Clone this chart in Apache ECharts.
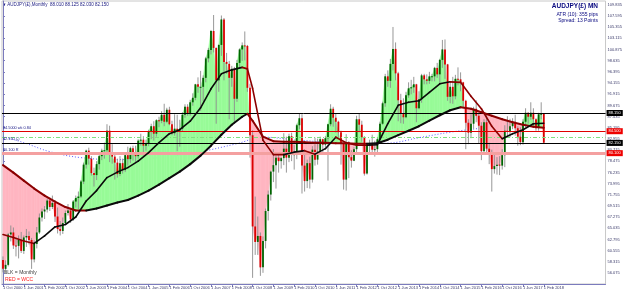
<!DOCTYPE html>
<html>
<head>
<meta charset="utf-8">
<script src="https://cdn.jsdelivr.net/npm/echarts@6/dist/echarts.min.js"></script>
<style>
html, body { margin: 0; padding: 0; background: #fff; }
#chart { width: 625px; height: 293px; }
</style>
</head>
<body>
<div id="chart"></div>
<script>
// AUDJPY monthly, bar 0 = Oct 2000 ... bar 208 = Feb 2018
var firstOpen = 58.7;
var closes = [
  56.9, 57.7, 63.8,
  64.2, 61.6, 61.5, 62.7, 60.5, 63.2, 63.5, 62.7, 58.8, 61.9, 64.2, 67.2,
  68.4, 68.8, 70.6, 69.3, 70.1, 67.4, 64.9, 64.5, 66.1, 68.1, 68.6, 66.8,
  70.4, 71.1, 71.4, 74.4, 77.8, 80.6, 79.0, 76.1, 75.7, 77.9, 79.5, 80.6,
  80.7, 84.6, 79.9, 79.4, 78.2, 75.9, 78.1, 76.7, 79.7, 78.9, 81.1, 80.1,
  79.5, 82.6, 82.8, 81.6, 82.1, 84.5, 85.5, 84.0, 86.7, 86.6, 87.8, 86.4,
  88.8, 85.9, 84.1, 85.0, 84.7, 85.0, 87.8, 89.4, 88.1, 90.3, 91.2, 93.9,
  93.4, 93.4, 95.2, 99.1, 100.8, 104.6, 101.2, 94.7, 101.8, 106.9, 98.4, 98.0,
  95.2, 97.0, 91.0, 98.2, 100.9, 101.7, 101.6, 93.2, 83.7, 65.4, 62.3, 63.5,
  57.2, 62.5, 68.5, 71.8, 76.4, 77.7, 79.2, 78.5, 79.1, 81.0, 79.2, 83.5,
  79.8, 79.9, 85.7, 87.1, 77.6, 74.5, 78.1, 74.8, 80.8, 78.8, 80.4, 82.9,
  81.8, 83.1, 85.9, 89.0, 87.2, 86.4, 84.3, 82.0, 74.8, 82.3, 79.3, 78.6,
  80.9, 86.9, 85.8, 83.3, 76.0, 81.6, 82.1, 80.8, 80.9, 82.9, 86.0, 90.1,
  95.5, 94.6, 98.0, 101.0, 96.1, 90.7, 88.0, 87.3, 91.7, 93.1, 93.3, 93.9,
  89.1, 90.9, 95.7, 94.9, 94.6, 95.5, 95.5, 97.2, 95.9, 98.8, 100.9, 97.9,
  91.4, 93.4, 91.5, 95.0, 94.9, 94.3, 90.6, 86.2, 84.2, 86.0, 89.0, 87.6,
  85.6, 80.5, 86.3, 81.0, 80.0, 76.9, 77.5, 77.8, 77.6, 79.7, 84.6, 84.4,
  85.5, 86.4, 85.1, 83.4, 82.3, 86.4, 88.2, 87.4, 88.2, 86.9, 85.1, 87.9,
  88.0, 82.2
];
var highs = [
  59.4, 58.6, 64.1,
  65.6, 65.2, 63.2, 63.6, 64.3, 63.6, 64.9, 64.4, 63.1, 62.6, 65.3, 68.0,
  69.0, 69.5, 71.0, 71.2, 71.6, 70.6, 69.2, 66.5, 67.2, 68.6, 69.9, 69.0,
  70.7, 71.6, 72.4, 74.7, 78.2, 80.8, 81.2, 79.5, 77.2, 78.5, 80.2, 81.0,
  82.2, 85.9, 85.6, 81.9, 79.8, 79.0, 79.5, 79.0, 80.2, 81.4, 81.4, 81.6,
  81.6, 82.9, 84.0, 83.5, 82.8, 84.8, 86.0, 86.5, 86.9, 87.4, 88.5, 90.0,
  89.2, 89.4, 86.6, 87.9, 87.8, 86.8, 88.3, 89.9, 89.9, 90.8, 92.1, 94.0,
  95.3, 96.6, 95.7, 99.4, 101.2, 104.8, 107.8, 101.3, 101.9, 107.7, 107.2, 100.2,
  98.6, 97.6, 97.4, 98.8, 101.1, 102.3, 104.5, 101.8, 94.0, 84.7, 71.4, 67.4,
  64.2, 63.4, 69.0, 72.6, 76.6, 80.9, 79.6, 80.2, 79.3, 84.1, 83.4, 84.0,
  84.2, 81.7, 86.0, 88.1, 87.9, 80.2, 78.8, 79.4, 81.5, 83.2, 83.0, 83.4,
  83.0, 83.5, 86.0, 89.9, 89.4, 88.0, 86.6, 84.6, 82.0, 83.9, 82.5, 80.7,
  81.3, 87.6, 88.0, 86.6, 83.5, 81.8, 82.8, 83.8, 82.6, 83.3, 86.4, 90.4,
  96.0, 96.7, 99.0, 105.4, 102.3, 96.4, 92.0, 91.1, 92.4, 94.3, 94.8, 95.4,
  94.0, 92.5, 96.0, 96.0, 95.9, 96.4, 96.0, 97.4, 98.2, 99.0, 102.8, 102.9,
  98.0, 94.4, 95.4, 95.8, 97.3, 96.3, 94.4, 90.8, 86.9, 87.9, 89.4, 90.7,
  88.2, 86.3, 86.9, 87.8, 82.2, 80.8, 79.8, 79.3, 79.5, 80.9, 85.7, 87.5,
  87.0, 87.1, 87.8, 85.5, 85.3, 86.9, 89.1, 88.3, 90.3, 89.1, 87.1, 88.2,
  90.3, 88.1
];
var lows = [
  56.2, 55.9, 57.4,
  62.4, 60.9, 59.4, 59.0, 60.1, 59.9, 61.3, 61.8, 56.9, 58.2, 61.0, 63.9,
  66.4, 66.9, 68.2, 68.5, 68.9, 66.3, 64.0, 63.6, 63.9, 65.9, 67.6, 66.1,
  66.5, 69.2, 68.9, 71.1, 73.9, 77.0, 77.8, 75.6, 73.4, 74.7, 76.8, 78.7,
  79.0, 79.8, 78.3, 78.0, 74.8, 75.2, 75.5, 76.0, 76.3, 77.6, 78.1, 78.6,
  78.3, 79.0, 81.6, 79.6, 80.6, 81.5, 82.9, 82.6, 83.4, 85.3, 86.1, 85.5,
  86.1, 85.7, 83.7, 83.6, 80.5, 81.4, 84.5, 87.2, 87.6, 87.6, 89.6, 90.7,
  92.2, 88.6, 90.5, 94.3, 98.3, 99.9, 100.3, 86.0, 92.4, 99.6, 94.7, 96.0,
  86.9, 93.4, 86.0, 90.4, 97.2, 98.6, 98.7, 92.4, 79.2, 55.1, 59.7, 59.7,
  55.5, 56.1, 61.0, 66.6, 70.6, 74.3, 73.0, 76.2, 77.0, 77.7, 76.2, 78.3,
  78.5, 76.8, 78.9, 84.9, 72.0, 72.4, 73.1, 73.0, 74.2, 77.6, 77.8, 80.0,
  80.2, 81.2, 74.6, 85.5, 85.4, 84.2, 83.3, 77.8, 72.8, 72.6, 75.1, 77.2,
  78.5, 80.3, 84.3, 82.4, 75.6, 75.8, 80.3, 80.0, 79.4, 80.0, 82.0, 85.8,
  89.4, 93.4, 93.2, 96.7, 94.7, 86.5, 86.1, 86.0, 87.1, 91.2, 91.9, 92.2,
  86.3, 88.9, 90.2, 93.9, 93.9, 94.0, 94.5, 94.5, 95.2, 94.0, 97.2, 95.0,
  90.6, 90.1, 90.0, 90.9, 93.7, 92.5, 89.3, 80.9, 81.9, 83.1, 85.0, 86.3,
  82.0, 78.7, 80.4, 80.2, 77.9, 72.4, 76.0, 75.8, 75.7, 76.8, 77.3, 83.4,
  83.3, 84.9, 83.6, 81.6, 81.7, 81.8, 85.3, 86.0, 86.8, 85.6, 84.6, 84.6,
  86.9, 82.0
];

// moving averages at these bars
var maIdx = [0, 4, 8, 12, 16, 20, 24, 28, 32, 36, 40, 44, 48, 52, 56, 60, 64, 68, 72, 76, 80, 84, 88, 92, 94, 96, 100, 104, 108, 112, 116, 120, 124, 128, 132, 136, 140, 144, 148, 152, 156, 160, 164, 168, 172, 176, 180, 184, 188, 192, 196, 200, 204, 208];
var slowVal = [77.7, 76.2, 74.6, 73.0, 71.6, 70.4, 69.3, 68.6, 68.6, 69.0, 69.6, 70.2, 70.7, 71.6, 72.6, 73.8, 75.1, 76.4, 77.9, 79.6, 81.6, 83.8, 85.8, 87.4, 88.0, 86.6, 83.4, 82.5, 82.4, 82.4, 82.3, 82.2, 82.2, 82.1, 82.1, 82.0, 82.0, 82.1, 82.8, 83.7, 84.6, 85.5, 86.6, 87.7, 88.7, 89.3, 89.0, 88.3, 87.6, 86.9, 86.3, 85.8, 85.4, 85.2];
var fastVal = [63.8, 63.2, 62.5, 62.0, 63.5, 65.3, 65.8, 67.3, 70.5, 72.6, 75.2, 76.3, 77.2, 78.5, 80.2, 82.2, 84.0, 84.8, 86.5, 89.2, 93.0, 96.0, 96.8, 97.3, 97.0, 93.1, 82.7, 79.8, 79.8, 80.3, 80.6, 79.9, 81.0, 83.3, 82.2, 81.7, 81.7, 81.8, 86.0, 89.7, 90.3, 90.6, 92.3, 94.0, 94.4, 94.3, 91.5, 89.0, 85.5, 83.0, 84.0, 84.8, 86.0, 86.1];
// long dotted average
var blueIdx = [0, 8, 18, 30, 45, 60, 75, 90, 100, 112, 124, 136, 148, 160, 172, 184, 196, 208];
var blueVal = [83.4, 82.2, 80.4, 79.2, 78.8, 79.2, 80.3, 82.0, 83.3, 82.8, 82.3, 82.0, 82.1, 83.2, 84.3, 85.1, 85.6, 86.0];

// horizontal price levels, their right-hand boxes and their notes on the left
var levels = [88.15, 84.5, 83.3, 82.15, 80.1];
var levelText = ['88.150', '84.500', '', '82.150', '80.100'];
var levelNotes = ['', '84.5000 wk 0.84', '', '82.150 (-)', '80.100 R'];

var xLabelIdx = [0, 8, 16, 24, 32, 40, 48, 56, 64, 72, 80, 88, 96, 104, 112, 120, 128, 136, 144, 152, 160, 168, 176, 184, 192, 200, 208];
var xLabels = ['1 Oct 2000', '1 Jun 2001', '1 Feb 2002', '1 Oct 2002', '1 Jun 2003', '1 Feb 2004', '1 Oct 2004', '1 Jun 2005', '1 Feb 2006', '1 Oct 2006', '1 Jun 2007', '1 Feb 2008', '1 Oct 2008', '1 Jun 2009', '1 Feb 2010', '1 Oct 2010', '1 Jun 2011', '1 Feb 2012', '1 Oct 2012', '1 Jun 2013', '1 Feb 2014', '1 Oct 2014', '1 Jun 2015', '1 Feb 2016', '1 Oct 2016', '1 Jun 2017', '1 Feb 2018'];
var yTicks = [53.835, 56.075, 58.315, 60.555, 62.795, 65.035, 67.275, 69.515, 71.755, 73.995, 76.235, 78.475, 80.715, 82.955, 85.195, 87.435, 89.675, 91.915, 94.155, 96.395, 98.635, 100.875, 103.115, 105.355, 107.595, 109.835];

var UP_FILL = '#98fb98', DN_FILL = '#ffb6c1';
var MAROON = '#8b0000', BLACK = '#0a0a0a';
var AXIS = '#7b7bbd', TXT = '#3a3a6a';
var FONT = 'Liberation Sans';

var chart = echarts.init(document.getElementById('chart'));
var n = closes.length;
var candles = [];
for (var i = 0; i < n; i++) {
  var o = i === 0 ? firstOpen : closes[i - 1];
  candles.push([i, o, closes[i], lows[i], highs[i]]);
}

// value of a knotted line at bar x (the straight segments the line is drawn with)
function lineAt(idx, val, x) {
  for (var k = 0; k < idx.length - 1; k++) {
    if (x <= idx[k + 1]) {
      var t = (x - idx[k]) / (idx[k + 1] - idx[k]);
      return val[k] + t * (val[k + 1] - val[k]);
    }
  }
  return val[val.length - 1];
}

function renderFill(params, api) {
  if (params.dataIndex !== 0) return;
  var kids = [];
  function poly(pts, up) {
    var c = up ? UP_FILL : DN_FILL;
    return {
      type: 'polygon',
      shape: { points: pts.map(function (p) { return api.coord(p); }) },
      style: { fill: c, stroke: c, lineWidth: 0.6 }
    };
  }
  for (var i = 0; i < n - 1; i++) {
    var c0 = closes[i], c1 = closes[i + 1];
    var s0 = lineAt(maIdx, slowVal, i), s1 = lineAt(maIdx, slowVal, i + 1);
    var d0 = c0 - s0, d1 = c1 - s1;
    if ((d0 >= 0) === (d1 >= 0)) {
      kids.push(poly([[i, c0], [i + 1, c1], [i + 1, s1], [i, s0]], d0 >= 0));
    } else {
      var t = d0 / (d0 - d1), xm = i + t, ym = c0 + t * (c1 - c0);
      kids.push(poly([[i, c0], [xm, ym], [i, s0]], d0 >= 0));
      kids.push(poly([[xm, ym], [i + 1, c1], [i + 1, s1]], d1 >= 0));
    }
  }
  return { type: 'group', children: kids };
}

function maRenderer(idx, val, width) {
  return function (params, api) {
    if (params.dataIndex !== 0) return;
    var kids = [];
    for (var k = 0; k < idx.length - 1; k++) {
      var a = api.coord([idx[k], val[k]]), b = api.coord([idx[k + 1], val[k + 1]]);
      kids.push({
        type: 'line',
        shape: { x1: a[0], y1: a[1], x2: b[0], y2: b[1] },
        style: { stroke: val[k + 1] > val[k] ? BLACK : MAROON, lineWidth: width, lineCap: 'round' }
      });
    }
    return { type: 'group', children: kids };
  };
}

function renderCandle(params, api) {
  var x = api.value(0), o = api.value(1), c = api.value(2), l = api.value(3), h = api.value(4);
  var pl = api.coord([x, l]), ph = api.coord([x, h]);
  var po = api.coord([x, o]), pc = api.coord([x, c]);
  var top = Math.min(po[1], pc[1]), hgt = Math.max(1, Math.abs(po[1] - pc[1]));
  return {
    type: 'group',
    children: [
      { type: 'line', shape: { x1: pl[0], y1: pl[1], x2: ph[0], y2: ph[1] }, style: { stroke: '#8c8c8c', lineWidth: 0.9 } },
      { type: 'rect', shape: { x: pl[0] - 0.9, y: top, width: 1.8, height: hgt }, style: { fill: c >= o ? '#006400' : '#dd0000' } }
    ]
  };
}

var levelStyles = [
  { color: '#000000', width: 1, type: 'solid', box: '#000000' },
  { color: '#e00000', width: 1, type: 'solid', box: '#ee0000' },
  { color: '#7ee07e', width: 1, type: [4, 2, 1, 2], box: null },
  { color: '#000000', width: 1, type: 'solid', box: '#000000' },
  { color: '#f4a0a0', width: 3, type: 'solid', box: '#ee0000' }
];
var levelLines = levels.map(function (v, k) {
  var s = levelStyles[k];
  return {
    yAxis: v,
    lineStyle: { color: s.color, width: s.width, type: s.type },
    label: s.box ? {
      show: true, position: 'end', distance: 1, formatter: levelText[k],
      color: '#ffffff', backgroundColor: s.box, fontSize: 4, fontFamily: FONT, padding: [1, 2]
    } : { show: false }
  };
});

// small notes written just above the left end of some levels
function renderNotes(params, api) {
  if (params.dataIndex !== 0) return;
  var kids = [];
  levels.forEach(function (v, k) {
    if (!levelNotes[k]) return;
    var p = api.coord([0, v]);
    kids.push({
      type: 'text',
      style: { x: 3, y: p[1] - 1.5, text: levelNotes[k], fill: '#20208a', fontSize: 3.8, fontFamily: FONT, verticalAlign: 'bottom' }
    });
  });
  return { type: 'group', children: kids };
}

chart.setOption({
  animation: false,
  backgroundColor: '#ffffff',
  grid: { left: 1, right: 18, top: 1, bottom: 9, show: true, borderColor: '#c8c8c8', borderWidth: 1 },
  xAxis: {
    type: 'value', min: -0.383, max: 231.75,
    axisLine: { show: true, lineStyle: { color: AXIS } },
    axisTick: { show: true, customValues: xLabelIdx, length: 3, lineStyle: { color: AXIS } },
    axisLabel: {
      customValues: xLabelIdx, fontSize: 4, fontFamily: FONT, color: TXT, align: 'left', margin: 2,
      formatter: function (v) { return xLabels[xLabelIdx.indexOf(v)] || ''; }
    },
    splitLine: { show: false }
  },
  yAxis: {
    type: 'value', position: 'right', min: 53.866, max: 110.607,
    axisLine: { show: true, lineStyle: { color: AXIS } },
    axisTick: { show: true, customValues: yTicks, length: 2, lineStyle: { color: AXIS } },
    axisLabel: {
      customValues: yTicks, fontSize: 4, fontFamily: FONT, color: TXT, margin: 2,
      formatter: function (v) { return v.toFixed(3); }
    },
    splitLine: { show: false }
  },
  series: [
    {
      type: 'line', z: 1, symbol: 'none', silent: true,
      data: blueIdx.map(function (x, k) { return [x, blueVal[k]]; }),
      smooth: 0.4, lineStyle: { color: '#5a5aff', width: 1, type: [1, 2] }
    },
    { type: 'custom', z: 2, silent: true, renderItem: renderFill, data: [[0, 80]] },
    {
      type: 'line', z: 3, data: [], silent: true,
      markLine: { symbol: 'none', silent: true, animation: false, data: levelLines }
    },
    { type: 'custom', z: 4, silent: true, renderItem: renderCandle, data: candles, encode: { x: 0, y: [1, 2, 3, 4] } },
    { type: 'custom', z: 5, silent: true, renderItem: maRenderer(maIdx, slowVal, 2), data: [[0, 80]] },
    { type: 'custom', z: 6, silent: true, renderItem: maRenderer(maIdx, fastVal, 1.6), data: [[0, 80]] },
    { type: 'custom', z: 7, silent: true, clip: false, renderItem: renderNotes, data: [[0, 80]] }
  ],
  graphic: [
    { type: 'text', left: 3, top: 2, style: { text: '\u25BE AUDJPY(\u00A3),Monthly  88.010 88.125 82.030 82.150', fontSize: 4.5, fontFamily: FONT, fill: '#1a1a80' } },
    { type: 'text', right: 27, top: 3, style: { text: 'AUDJPY(\u00A3) MN', fontSize: 6.5, fontWeight: 'bold', fontFamily: FONT, fill: '#0a0a80' } },
    { type: 'text', right: 27, top: 12, style: { text: 'ATR (10): 355 pips', fontSize: 5, fontFamily: FONT, fill: '#0a0a80' } },
    { type: 'text', right: 27, top: 18, style: { text: 'Spread: 13 Points', fontSize: 5, fontFamily: FONT, fill: '#0a0a80' } },
    { type: 'text', left: 4, top: 270, style: { text: 'BLK = Monthly', fontSize: 5, fontFamily: FONT, fill: '#404040' } },
    { type: 'text', left: 5, top: 277, style: { text: 'RED = WCC', fontSize: 5, fontFamily: FONT, fill: '#ff2020' } }
  ]
});
</script>
</body>
</html>
